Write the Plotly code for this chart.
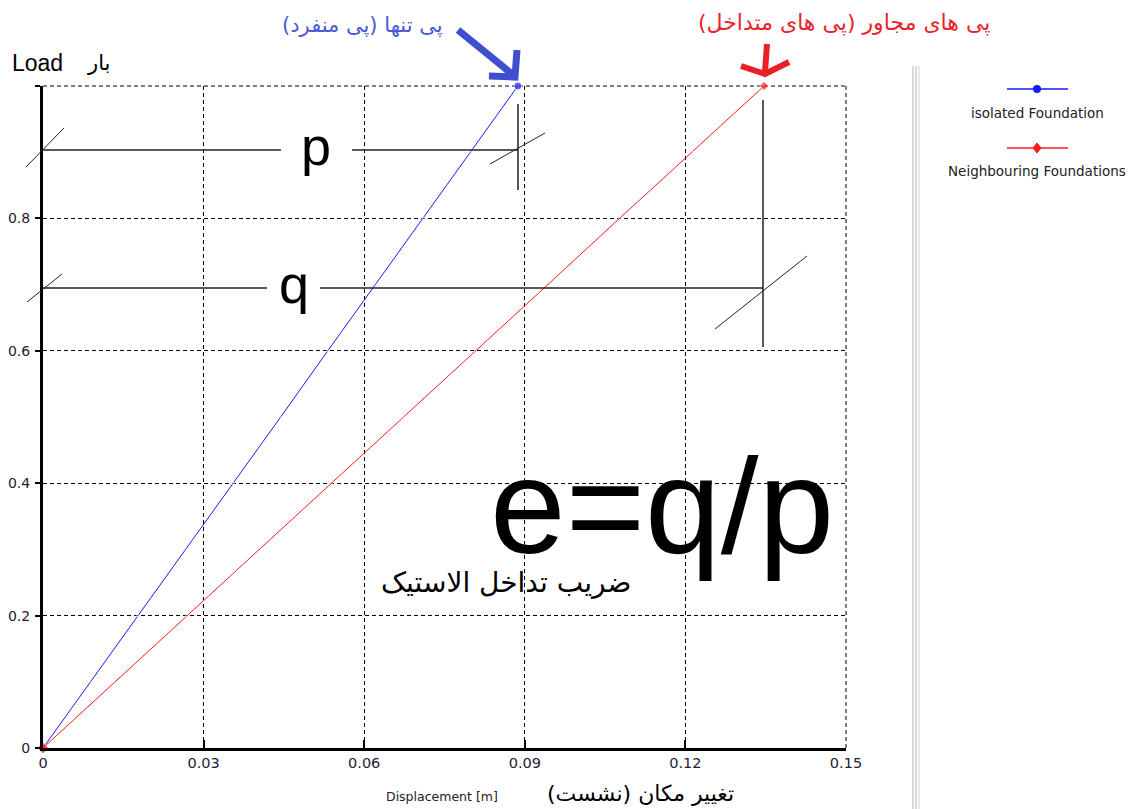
import plotly.graph_objects as go

# load steps and displacements
load = [0, 0.1, 0.2, 0.3, 0.4, 0.5, 0.6, 0.7, 0.8, 0.9, 1.0]
disp_isolated = [0, 0.0089, 0.0177, 0.0266, 0.0355, 0.0444, 0.0532, 0.0621, 0.071, 0.0799, 0.0887]
disp_neighbour = [0, 0.0135, 0.0269, 0.0404, 0.0539, 0.0673, 0.0808, 0.0943, 0.1077, 0.1212, 0.1347]

x_ticks = [0, 0.03, 0.06, 0.09, 0.12, 0.15]
x_ticktext = ["0", "0.03", "0.06", "0.09", "0.12", "0.15"]
y_ticks = [0, 0.2, 0.4, 0.6, 0.8, 1.0]
y_ticktext = ["0", "0.2", "0.4", "0.6", "0.8", ""]

BLUE = "#1a1aff"
RED = "#ff1a1a"
FONT = "Liberation Sans, Arial, sans-serif"
TAHOMA = "DejaVu Sans, Verdana, sans-serif"
FA = "DejaVu Sans, Noto Sans, sans-serif"
GRIDDASH = "4px,3px"

# the page has an 8px body margin, so the figure is a bit smaller
# pixel -> paper helpers, in page pixels (plot area is 43..846 x 86..748)
def px(x):
    return (x - 43) / 803

def py(y):
    return (748 - y) / 662

def end_sizes(n, big):
    return [big if i == n - 1 else 2 for i in range(n)]

fig = go.Figure()
fig.add_trace(go.Scatter(
    x=disp_isolated, y=load, mode="lines+markers",
    line=dict(color=BLUE, width=1),
    marker=dict(color=BLUE, size=end_sizes(len(load), 8)),
    name="isolated Foundation", cliponaxis=False
))
red_sizes = end_sizes(len(load), 7)
red_sizes[0] = 9
fig.add_trace(go.Scatter(
    x=disp_neighbour, y=load, mode="lines+markers",
    line=dict(color=RED, width=1),
    marker=dict(color=RED, size=red_sizes, symbol="diamond"),
    name="Neighbouring Foundations", cliponaxis=False
))

shapes = []
def seg(x0, y0, x1, y1, color="#222", width=1.5, dash="solid", layer="above"):
    shapes.append(dict(type="line", xref="paper", yref="paper", layer=layer,
                       x0=px(x0), y0=py(y0), x1=px(x1), y1=py(y1),
                       line=dict(color=color, width=width, dash=dash)))

def poly(pts, color, width):
    d = "M " + " L ".join(f"{px(a)},{py(b)}" for a, b in pts)
    shapes.append(dict(type="path", xref="paper", yref="paper", path=d,
                       line=dict(color=color, width=width)))

# dashed top and right frame (gridlines at the range ends)
seg(43, 86, 846, 86, color="#000", width=1, dash=GRIDDASH, layer="below")
seg(846, 86, 846, 748, color="#000", width=1, dash=GRIDDASH, layer="below")

# p dimension line
seg(43, 150, 281, 150)
seg(352, 150, 518, 150)
seg(518, 104, 518, 190)
seg(26, 167, 64, 128, width=1)
seg(490, 164, 545, 133, width=1)
# q dimension line
seg(43, 288, 267, 288)
seg(320, 288, 763, 288)
seg(763, 100, 763, 347)
seg(27, 302, 62, 274, width=1)
seg(715, 329, 807, 256, width=1)

# hand drawn arrows
poly([(458, 30), (512, 74)], "#3f4fd0", 7)
poly([(517, 50), (515, 77), (489, 76)], "#3f4fd0", 7)
poly([(767, 44), (765, 72)], "#e8202a", 6)
poly([(741, 66), (765, 74), (789, 62)], "#e8202a", 6)

# legend separator
seg(913, 66, 913, 809, color="#b5b5b5", width=1)
seg(916, 66, 916, 809, color="#b5b5b5", width=1)
seg(919, 66, 919, 809, color="#d0d0d0", width=1)

# manual legend symbols
seg(1007, 89, 1068, 89, color=BLUE, width=1.5)
seg(1007, 148, 1068, 148, color=RED, width=1.5)
shapes.append(dict(type="circle", xref="paper", yref="paper",
                   x0=px(1033), x1=px(1041), y0=py(93), y1=py(85),
                   fillcolor=BLUE, line=dict(color=BLUE, width=0)))
poly([(1037, 143), (1041, 148), (1037, 153), (1033, 148), (1037, 143)], RED, 1)
shapes[-1]["fillcolor"] = RED

annotations = []
def txt(s, x, y, size, color="#000", font=FONT, xanchor="center"):
    annotations.append(dict(text=s, xref="paper", yref="paper", x=px(x), y=py(y),
                            xanchor=xanchor, yanchor="middle", showarrow=False,
                            font=dict(family=font, size=size, color=color)))

txt("p", 316, 146, 54)
txt("q", 294, 284, 54)
txt("e=q/p", 662, 506, 136)
txt("ضریب تداخل الاستیک", 506, 582, 28, font=FA)
txt("پی تنها (پی منفرد)", 362, 25, 21, color="#4a5ad6", font=FA)
txt("پی های مجاور (پی های متداخل)", 844, 23, 22, color="#e8232b", font=FA)
txt("Load", 10, 63, 23, xanchor="left")
txt("بار", 98, 63, 21, font=FA)
txt("Displacement [m]", 442, 797, 12.5, color="#222", font=TAHOMA)
txt("تغییر مکان (نشست)", 640, 793, 22, font=FA)
txt("isolated Foundation", 1037, 113, 13.5, color="#222", font=TAHOMA)
txt("Neighbouring Foundations", 1037, 171, 13.5, color="#222", font=TAHOMA)

fig.update_layout(
    width=1140, height=801,
    margin=dict(l=35, r=302, t=78, b=61),
    paper_bgcolor="white", plot_bgcolor="white",
    showlegend=False,
    shapes=shapes, annotations=annotations,
    font=dict(family=TAHOMA, size=14, color="#222"),
    xaxis=dict(range=[0, 0.15], tickvals=x_ticks, ticktext=x_ticktext,
               showgrid=True, gridcolor="#000", griddash=GRIDDASH, gridwidth=1,
               showline=True, linecolor="#000", linewidth=3, zeroline=False,
               ticks="inside", ticklen=8, tickcolor="#000", tickwidth=1.5,
               automargin=False,
               tickfont=dict(family=TAHOMA, size=14.5, color="#223")),
    yaxis=dict(range=[0, 1.0], tickvals=y_ticks, ticktext=y_ticktext,
               showgrid=True, gridcolor="#000", griddash=GRIDDASH, gridwidth=1,
               showline=True, linecolor="#000", linewidth=3, zeroline=False,
               ticks="outside", ticklen=5, tickcolor="#000", tickwidth=1.5,
               automargin=False, ticklabelstandoff=2,
               tickfont=dict(family=TAHOMA, size=14, color="#223")),
)

fig.write_html("out.html")
